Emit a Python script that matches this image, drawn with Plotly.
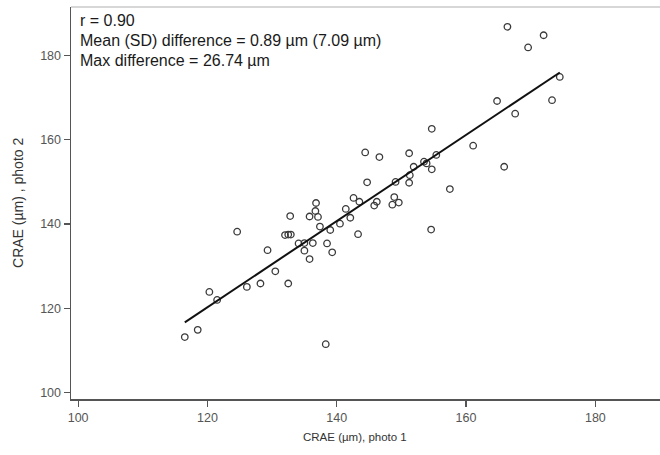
import numpy as np
import plotly.graph_objects as go

# CRAE (µm) values
photo1 = [116.5, 118.5, 120.3, 121.5, 124.6, 126.1, 128.2, 129.3, 130.5, 132.0,
          132.5, 132.9, 132.5, 132.8, 134.1, 135.0, 135.0, 135.8, 136.3, 135.8,
          137.1, 136.7, 136.8, 137.4, 138.3, 138.5, 139.0, 139.3, 140.5, 141.4,
          142.1, 142.6, 143.3, 143.5, 144.4, 144.7, 145.8, 146.2, 146.6, 148.6,
          148.9, 149.1, 149.6, 151.2, 151.2, 151.3, 151.9, 153.5, 153.9, 154.7,
          154.7, 155.4, 154.6, 157.5, 161.1, 164.8, 165.9, 166.4, 167.6, 169.6,
          172.0, 173.3, 174.5]
photo2 = [113.2, 114.9, 123.9, 122.0, 138.2, 125.1, 125.9, 133.8, 128.8, 137.4,
          137.5, 137.5, 125.9, 141.9, 135.4, 135.5, 133.7, 131.7, 135.5, 141.8,
          141.7, 143.1, 145.0, 139.4, 111.5, 135.4, 138.6, 133.3, 140.1, 143.6,
          141.5, 146.2, 137.6, 145.3, 157.0, 149.9, 144.4, 145.3, 155.9, 144.6,
          146.4, 150.0, 145.1, 156.8, 149.8, 151.6, 153.6, 154.8, 154.4, 153.0,
          162.6, 156.4, 138.7, 148.3, 158.6, 169.2, 153.6, 186.8, 166.2, 181.9,
          184.8, 169.4, 174.9]

x_ticks = [100, 120, 140, 160, 180]
y_ticks = [100, 120, 140, 160, 180]

stats_lines = ["r = 0.90",
               "Mean (SD) difference = 0.89 µm (7.09 µm)",
               "Max difference = 26.74 µm"]

x_title = "CRAE (µm), photo 1"
y_title = "CRAE (µm) , photo 2"

x_arr = np.array(photo1)
y_arr = np.array(photo2)
slope, intercept = np.polyfit(x_arr, y_arr, 1)
fit_x = np.array([x_arr.min(), x_arr.max()])
fit_y = slope * fit_x + intercept

FONT = "Liberation Sans, Arial, sans-serif"

fig = go.Figure()
fig.add_trace(go.Scatter(
    x=photo1, y=photo2, mode="markers",
    marker=dict(symbol="circle-open", size=6.5, color="#3a3a3a",
                line=dict(width=1.3, color="#3a3a3a")),
    showlegend=False, hoverinfo="skip"))
fig.add_trace(go.Scatter(
    x=fit_x, y=fit_y, mode="lines",
    line=dict(color="#111111", width=2),
    showlegend=False, hoverinfo="skip"))

L, T, B = 70.7, 6.7, 56
W, H = 660, 455
plot_w = W - L
plot_h = H - T - B

def px_x(p):
    return (p - L) / plot_w

def px_y(p):
    return (H - B - p) / plot_h

annotations = []
for txt, yc in zip(stats_lines, [20.7, 40.5, 60.0]):
    annotations.append(dict(
        text=txt, x=px_x(77.5), y=px_y(yc), xref="paper", yref="paper",
        xanchor="left", yanchor="middle", showarrow=False,
        font=dict(family=FONT, size=16, color="#1a1a1a")))
annotations.append(dict(
    text=x_title, x=px_x(355), y=px_y(437), xref="paper", yref="paper",
    xanchor="center", yanchor="middle", showarrow=False,
    font=dict(family=FONT, size=11.5, color="#333333")))
annotations.append(dict(
    text=y_title, x=px_x(17), y=px_y(202.5), xref="paper", yref="paper",
    xanchor="center", yanchor="middle", showarrow=False, textangle=-90,
    font=dict(family=FONT, size=14, color="#333333")))

fig.update_layout(
    width=W, height=H,
    margin=dict(l=L, r=0, t=T, b=B),
    paper_bgcolor="white", plot_bgcolor="white",
    font=dict(family=FONT),
    annotations=annotations,
    shapes=[dict(type="line", xref="paper", yref="paper",
                 x0=0, x1=1, y0=1, y1=1,
                 line=dict(color="#b0b0b0", width=1.2))],
    xaxis=dict(range=[98.9, 190], tickvals=x_ticks, ticks="outside",
               ticklen=6, tickwidth=1.2, tickcolor="#555555",
               showline=True, linecolor="#555555", linewidth=1.5,
               showgrid=False, zeroline=False, automargin=False,
               tickfont=dict(family=FONT, size=12.5, color="#555555")),
    yaxis=dict(range=[98.5, 191.5], tickvals=y_ticks, ticks="outside",
               ticklen=6, tickwidth=1.2, tickcolor="#555555",
               showline=True, linecolor="#555555", linewidth=1.5,
               showgrid=False, zeroline=False, automargin=False,
               tickfont=dict(family=FONT, size=12.5, color="#555555")),
)

fig.write_html("out.html",
               config={"displayModeBar": False, "staticPlot": True},
               post_script="document.body.style.margin='0px';")
